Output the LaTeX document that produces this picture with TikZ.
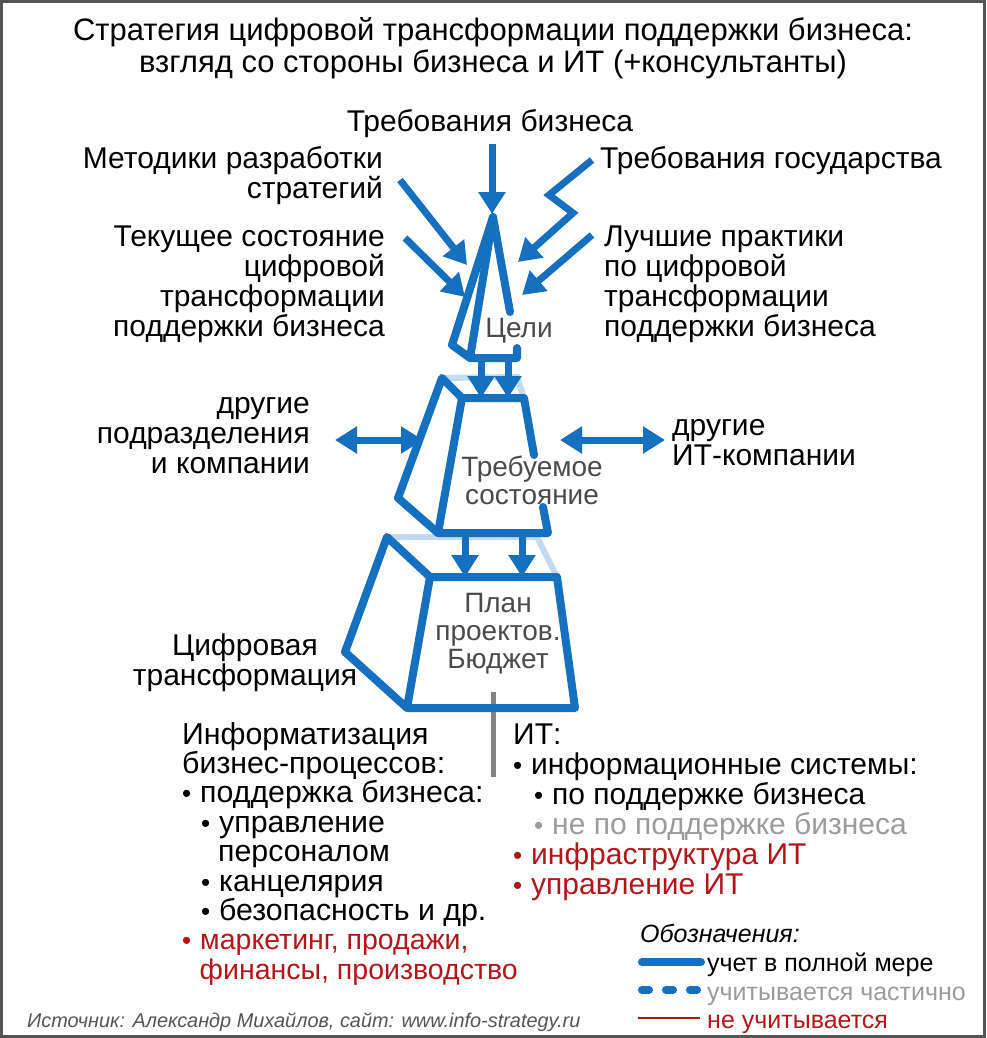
\documentclass[tikz,border=0pt]{standalone}
\usepackage{fontspec}
\setmainfont{Liberation Sans}
\usetikzlibrary{arrows.meta}
\definecolor{cdblue}{RGB}{22,112,192}
\definecolor{cdlight}{RGB}{196,218,238}
\definecolor{cdred}{RGB}{178,22,26}
\definecolor{cdgray}{RGB}{155,155,155}
\definecolor{cdlabel}{RGB}{75,75,75}
\definecolor{cdframe}{RGB}{85,85,85}
\newcommand{\lbul}{{\fontsize{26}{26}\selectfont\textbullet}\hspace{8.9pt}}
\newcommand{\redline}[1]{{\fontsize{28.5}{29.4}\selectfont\textcolor{cdred}{#1}}}
\tikzset{
  txt/.style={font=\fontsize{30}{30}\selectfont, inner sep=0pt, execute at begin node=\strut},
  shapelbl/.style={font=\fontsize{28}{28}\selectfont, text=cdlabel, inner sep=0pt, align=center, anchor=north, execute at begin node=\strut},
  legendtxt/.style={font=\fontsize{25}{29}\selectfont, inner sep=0pt, anchor=north west, execute at begin node=\strut},
  arr/.style={-{Triangle[length=22pt,width=26pt]}, line width=7pt, draw=cdblue},
  biarr/.style={{Triangle[length=22pt,width=26pt]}-{Triangle[length=22pt,width=26pt]}, line width=7pt, draw=cdblue},
  edge/.style={draw=cdblue, line width=8pt, line join=round, line cap=round},
  backedge/.style={draw=cdlight, line width=6pt, line cap=round}
}
\begin{document}
\begin{tikzpicture}[x=1pt, y=-1pt,
  footer/.style={font=\fontsize{19.9}{24}\selectfont\itshape, text=cdframe, inner sep=0pt, anchor=base west}
]
\useasboundingbox (0,0) rectangle (986,1038);
\draw[cdframe, line width=3pt] (1.5,1.5) rectangle (984.5,1036.5);
% title
\node[txt, font=\fontsize{31}{32}\selectfont, align=center, anchor=north] (title) at (493,17.6)
  {Стратегия цифровой трансформации поддержки бизнеса:\\взгляд со стороны бизнеса и ИТ (+консультанты)};
% inputs
\node[txt, anchor=north] (bizreq) at (490,109) {Требования бизнеса};
\node[txt, align=right, anchor=north east] (methods) at (383,146) {Методики разработки\\стратегий};
\node[txt, anchor=north west] (govreq) at (600,146) {Требования государства};
\node[txt, align=right, anchor=north east] (current) at (385,226) {Текущее состояние\\цифровой\\трансформации\\поддержки бизнеса};
\node[txt, align=left, anchor=north west] (practice) at (604,226) {Лучшие практики\\по цифровой\\трансформации\\поддержки бизнеса};
\node[txt, align=right, anchor=north east] (depts) at (310,397) {другие\\подразделения\\и компании};
\node[txt, align=left, anchor=north west] (itcomp) at (672,419) {другие\\ИТ-компании};
\node[txt, align=center, anchor=north] (digital) at (245,634) {Цифровая\\трансформация};
% coordinates of the three blocks
\coordinate (gA) at (493,217);
\coordinate (gSO) at (452,345);
\coordinate (gFL) at (470,358);
\coordinate (gFR) at (517,358);
\coordinate (gFRt) at (517,348);
\coordinate (gCut) at (510,312);
\coordinate (sBTL) at (442,378);
\coordinate (sBTR) at (517,377);
\coordinate (sFTL) at (462,398);
\coordinate (sFTR) at (524,398);
\coordinate (sFBR) at (548,533);
\coordinate (sFBL) at (438,533);
\coordinate (sSOB) at (398,498);
\coordinate (sCut1) at (534,455);
\coordinate (sCut2) at (543,507);
\coordinate (pBTL) at (387,537);
\coordinate (pBTR) at (537,537);
\coordinate (pFTL) at (430,577);
\coordinate (pFTR) at (557,577);
\coordinate (pFBR) at (575,708);
\coordinate (pFBL) at (407,708);
\coordinate (pSOB) at (345,652);
% separator
\coordinate (sepTop) at (493,692);
\coordinate (sepBot) at (493,777);
\draw[line width=5pt, draw=cdgray!85!black] (sepTop) -- (sepBot);
% back edges
\draw[backedge] (sBTL) -- (sBTR) -- (sFTR);
\draw[backedge] (pBTL) -- (pBTR) -- (pFTR);
% goals
\draw[edge] (gCut) -- (gA) -- (gSO) -- (gFL) -- (gFR) -- (gFRt);
\draw[edge] (gA) -- (gFL);
% required state
\draw[edge] (sCut1) -- (sFTR) -- (sFTL) -- (sBTL) -- (sSOB) -- (sFBL) -- (sFBR) -- (sCut2);
\draw[edge] (sFTL) -- (sFBL);
% plan
\draw[edge] (pFTL) -- (pFTR) -- (pFBR) -- (pFBL) -- (pSOB) -- (pBTL) -- (pFTL) -- (pFBL);
\node[shapelbl] (goals) at (519,318) {Цели};
\node[shapelbl] (state) at (532,456) {Требуемое\\состояние};
\node[shapelbl] (plan) at (498,593) {План\\проектов.\\Бюджет};
% arrows in
\coordinate (bizTip) at (492,214);
\coordinate (metStart) at (400,180);
\coordinate (metTip) at (467,265);
\coordinate (curStart) at (405,238);
\coordinate (curTip) at (465,297);
\coordinate (govStart) at (592,160);
\coordinate (govK1) at (549,195);
\coordinate (govK2) at (573,213);
\coordinate (govTip) at (518,262);
\coordinate (bestStart) at (592,235);
\coordinate (bestTip) at (522,295);
\draw[arr] (bizreq.south) ++(2,4) -- (bizTip);
\draw[arr] (metStart) -- (metTip);
\draw[arr] (curStart) -- (curTip);
\draw[arr, line join=miter] (govStart) -- (govK1) -- (govK2) -- (govTip);
\draw[arr] (bestStart) -- (bestTip);
% exchange
\coordinate (depR) at (335,440);
\coordinate (depL) at (423,440);
\coordinate (itL) at (560,440);
\coordinate (itR) at (665,440);
\draw[biarr] (depR) -- (depL);
\draw[biarr] (itL) -- (itR);
% between blocks
\foreach \x in {481,508} \draw[arr] (\x,360) -- (\x,398);
\foreach \x in {465,522} \draw[arr] (\x,535) -- (\x,577);
% lists
\node[txt, font=\fontsize{30.3}{29.4}\selectfont, align=left, anchor=north west] (bizlist) at (182,722)
  {Информатизация\\бизнес-процессов:\\\lbul поддержка бизнеса:\\\hspace{19pt}\lbul управление\\\hspace{36pt}персоналом\\\hspace{19pt}\lbul канцелярия\\\hspace{19pt}\lbul безопасность и др.\\\redline{\lbul маркетинг, продажи,}\\\hspace{17.5pt}\redline{финансы, производство}};
\node[txt, align=left, anchor=north west] (itlist) at (513,724)
  {ИТ:\\\lbul информационные системы:\\\hspace{21pt}\lbul по поддержке бизнеса\\\hspace{21pt}\textcolor{cdgray}{\lbul не по поддержке бизнеса}\\\textcolor{cdred}{\lbul инфраструктура ИТ}\\\textcolor{cdred}{\lbul управление ИТ}};
% legend
\node[legendtxt, font=\fontsize{25}{29}\selectfont\itshape] (legtitle) at (640,922) {Обозначения:};
\node[legendtxt] (legfull) at (707,951) {учет в полной мере};
\node[legendtxt, text=cdgray] (legpart) at (707,980) {учитывается частично};
\node[legendtxt, text=cdred] (legnone) at (707,1008) {не учитывается};
\coordinate (l1a) at (642,962);
\coordinate (l1b) at (701,962);
\coordinate (l2a) at (642,990);
\coordinate (l2b) at (697,990);
\coordinate (l3a) at (638,1018);
\coordinate (l3b) at (700,1018);
\draw[cdblue, line width=8pt, line cap=round] (l1a) -- (l1b);
\draw[cdblue, line width=8pt, line cap=round, dash pattern=on 7pt off 17pt] (l2a) -- (l2b);
\draw[cdred, line width=2.5pt] (l3a) -- (l3b);
\node[footer] (source) at (27,1027) {Источник: Александр Михайлов, сайт: www.info-strategy.ru};
\end{tikzpicture}
\end{document}
